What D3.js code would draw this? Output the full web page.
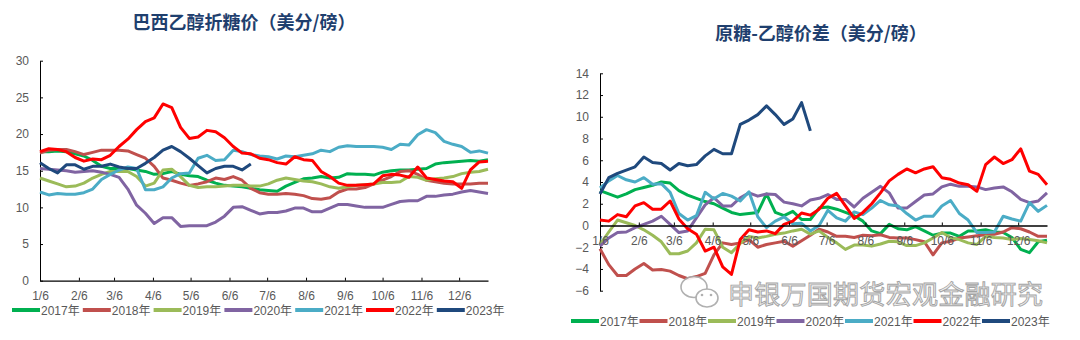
<!DOCTYPE html>
<html lang="zh">
<head>
<meta charset="UTF-8">
<title>巴西乙醇折糖价 / 原糖-乙醇价差</title>
<script src="https://cdnjs.cloudflare.com/ajax/libs/d3/7.8.5/d3.min.js"></script>
<style>
    body { margin: 0; background: #fff; }
    svg text { font-family: "Liberation Sans", "Noto Sans CJK SC", sans-serif; }
    .title { font-family: "Noto Sans CJK SC", sans-serif; font-weight: bold; fill: #1F3F6E; font-size: 18px; }
    .axis text { fill: #595959; font-size: 12px; }
    .axis path, .axis line { stroke: #000; }
    .legend text { fill: #595959; font-size: 12px; }
</style>
</head>
<body>
<svg id="viz" width="1080" height="340"></svg>
<script>
// weekly observation dates (common calendar for every year)
const weeks = ["1/6","1/13","1/20","1/27","2/3","2/10","2/17","2/24","3/3","3/10","3/17","3/24","3/31",
    "4/7","4/14","4/21","4/28","5/5","5/12","5/19","5/26","6/2","6/9","6/16","6/23","6/30",
    "7/7","7/14","7/21","7/28","8/4","8/11","8/18","8/25","9/1","9/8","9/15","9/22","9/29",
    "10/6","10/13","10/20","10/27","11/3","11/10","11/17","11/24","12/1","12/8","12/15","12/22","12/29"];
const monthTicks = ["1/6","2/6","3/6","4/6","5/6","6/6","7/6","8/6","9/6","10/6","11/6","12/6"];
const years = ["2017年","2018年","2019年","2020年","2021年","2022年","2023年"];
const colors = ["#00B050","#C0504D","#9BBB59","#8064A2","#4BACC6","#FF0000","#1F497D"];

// 巴西乙醇折糖价（美分/磅）
const eth2017 = [17.6,17.6,17.7,17.6,17.3,17.0,16.4,15.6,15.3,15.3,15.3,15.1,14.9,14.5,14.6,14.9,14.5,14.3,14.2,13.7,13.3,13.0,12.9,12.8,12.6,12.4,12.3,12.2,12.9,13.4,13.9,14.0,14.2,14.0,14.1,14.6,14.5,14.5,14.4,14.8,15.0,15.1,15.1,15.2,15.3,15.9,16.1,16.2,16.3,16.4,16.3,16.5];
const eth2018 = [17.4,17.8,17.9,17.9,17.6,17.2,17.5,17.8,17.8,17.8,17.7,17.2,16.7,15.6,14.0,13.7,13.3,13.0,13.2,13.5,14.0,13.8,14.2,13.7,12.6,12.0,11.8,11.8,11.9,11.8,11.6,11.2,11.1,11.3,12.1,12.5,12.5,12.7,13.2,13.7,14.2,14.9,15.0,14.5,13.7,13.5,13.3,13.2,13.2,13.2,13.3,13.3];
const eth2019 = [14.0,13.6,13.2,12.8,12.9,13.3,14.0,14.5,14.9,14.9,14.9,14.2,12.9,13.3,15.1,15.2,14.2,13.0,12.7,12.8,12.8,12.9,13.0,13.0,12.9,12.9,13.2,13.7,14.0,13.8,13.6,13.5,13.2,12.8,12.6,12.8,13.0,13.1,13.2,13.4,13.4,13.5,14.2,14.1,13.7,13.9,14.0,14.2,14.6,14.8,14.9,15.2];
const eth2020 = [15.3,15.2,15.1,15.0,14.8,14.9,15.0,14.8,14.5,14.1,12.5,10.3,9.2,7.8,8.6,8.6,7.4,7.5,7.5,7.5,8.0,8.8,10.0,10.1,9.6,9.1,9.3,9.3,9.5,9.9,9.9,9.4,9.4,9.9,10.4,10.4,10.2,10.0,10.0,10.0,10.4,10.8,10.9,10.9,11.5,11.5,11.7,11.8,12.1,12.3,12.1,11.9];
const eth2021 = [12.1,11.7,11.9,11.8,11.8,12.0,12.5,13.8,14.5,15.1,15.5,15.3,12.4,12.4,12.8,14.0,14.6,14.7,16.7,17.1,16.4,16.5,17.8,17.6,17.2,17.0,16.9,16.6,17.0,16.9,17.1,17.3,17.8,17.6,18.2,18.4,18.3,18.3,18.3,18.2,17.9,18.6,18.5,19.9,20.6,20.2,19.0,18.6,18.3,17.5,17.7,17.4];
const eth2022 = [17.6,18.0,17.9,17.6,16.8,16.3,16.6,16.5,17.1,18.3,19.3,20.6,21.7,22.2,24.1,23.6,20.9,19.4,19.6,20.5,20.3,19.5,18.3,17.4,17.3,16.7,16.5,16.1,15.9,16.9,16.5,16.4,14.9,14.2,13.3,13.0,13.0,13.1,13.2,14.3,14.5,14.4,14.1,15.5,14.0,13.8,13.6,13.5,12.6,15.1,16.2,16.3];
const eth2023 = [16.1,15.3,14.7,15.8,15.8,15.2,15.6,15.6,15.9,15.5,15.3,15.3,16.0,16.8,17.8,18.3,17.6,16.7,15.7,14.7,15.3,15.6,15.6,15.1,15.9];

// 原糖-乙醇价差（美分/磅）
const gap2017 = [3.2,2.9,2.6,2.9,3.3,3.5,3.7,4.0,3.9,3.2,2.8,2.5,2.2,2.0,1.6,1.2,1.0,1.1,1.2,2.9,1.2,0.9,1.3,0.55,0.55,1.6,1.7,1.5,1.2,0.9,0.4,-0.5,-0.75,0.1,-0.3,-0.4,-0.1,-0.5,-0.9,-0.7,-0.7,-1.0,-0.5,-0.5,-0.4,-0.6,-0.65,-1.1,-2.2,-2.5,-1.5,-1.35];
const gap2018 = [-2.15,-3.6,-4.6,-4.6,-4.0,-3.5,-4.1,-4.05,-4.2,-4.6,-4.9,-4.7,-4.4,-2.7,-1.6,-1.75,-1.6,-1.3,-2.0,-1.75,-1.6,-1.45,-1.9,-1.4,-0.9,-0.35,-0.6,-1.0,-1.0,-1.1,-0.9,-0.95,-0.85,-1.1,-1.15,-1.15,-1.3,-1.5,-2.7,-1.6,-1.45,-1.15,-1.05,-0.95,-0.85,-0.8,-0.6,-0.2,-0.3,-0.6,-1.0,-1.0];
const gap2019 = [-1.75,-0.6,0.5,0.25,0.0,-0.4,-0.9,-1.5,-2.6,-2.6,-2.35,-1.6,-0.35,-0.4,-2.0,-2.5,-1.65,-1.0,-1.15,-1.0,-0.8,-0.7,-0.5,-0.35,-0.8,-0.5,-1.1,-1.6,-2.2,-1.8,-1.8,-1.9,-1.7,-1.45,-1.5,-1.85,-1.85,-1.6,-1.15,-0.65,-1.1,-1.3,-1.6,-1.75,-1.0,-1.1,-1.15,-1.3,-1.2,-1.3,-1.4,-1.6];
const gap2020 = [-1.9,-1.15,-0.65,-0.6,-0.2,0.1,0.4,0.85,0.1,-0.65,-0.5,0.7,1.9,2.55,1.8,1.8,2.55,3.0,2.7,2.9,2.85,2.15,2.0,1.8,2.35,2.5,2.85,2.4,2.4,1.7,2.5,3.05,3.6,3.0,1.6,1.6,2.2,2.8,2.9,3.55,3.8,3.6,3.6,3.55,3.3,3.45,3.55,3.1,2.4,2.1,2.25,3.0];
const gap2021 = [3.45,4.1,4.6,4.2,4.0,4.4,3.8,3.85,3.05,1.1,0.5,0.9,3.05,2.45,2.95,2.7,2.25,3.1,0.8,-0.2,0.4,0.8,0.15,0.2,-0.5,0.0,1.4,0.7,0.4,1.25,1.0,1.6,2.3,1.9,1.8,1.1,0.5,0.85,0.85,1.8,2.3,1.1,0.5,-0.65,-0.65,-0.6,0.85,0.6,0.4,2.1,1.3,1.85];
const gap2022 = [0.5,0.4,1.0,0.8,1.8,2.1,1.5,1.5,2.25,0.6,-0.3,-0.8,-2.35,-2.0,-3.8,-4.5,-1.3,-0.4,-0.6,-0.5,-0.75,0.1,0.4,1.15,0.95,1.5,2.5,2.95,1.8,0.65,1.2,2.0,3.0,4.1,4.7,5.2,4.85,5.2,5.4,4.4,4.25,3.9,3.75,3.15,5.6,6.3,5.7,6.05,7.05,5.0,4.7,3.75];
const gap2023 = [2.9,4.4,4.8,5.1,5.4,6.3,5.8,5.7,5.1,5.7,5.5,5.6,6.4,7.0,6.6,6.6,9.3,9.7,10.2,11.0,10.2,9.3,9.8,11.3,8.7];

const leftSeries = [eth2017, eth2018, eth2019, eth2020, eth2021, eth2022, eth2023];
const rightSeries = [gap2017, gap2018, gap2019, gap2020, gap2021, gap2022, gap2023];

const toDate = s => { const [m, d] = s.split("/").map(Number); return new Date(2023, m - 1, d); };
const svg = d3.select("#viz");

function drawChart(cfg) {
    const x = d3.scaleTime().domain([toDate("1/6"), toDate("12/29")]).range([cfg.x0, cfg.x1]);
    const y = d3.scaleLinear().domain(cfg.yDomain).range([cfg.yBottom, cfg.yTop]);
    const g = svg.append("g");

    // y axis
    g.append("g").attr("class", "axis")
        .attr("transform", `translate(${cfg.x0},0)`)
        .call(d3.axisLeft(y).tickValues(cfg.yTicks).tickSizeInner(-3).tickSizeOuter(0).tickPadding(11));

    const line = d3.line()
        .x((d, i) => x(toDate(weeks[i])))
        .y(d => y(d));

    // x axis (at zero line)
    const xAxis = g.append("g").attr("class", "axis")
        .attr("transform", `translate(0,${y(0)})`)
        .call(d3.axisBottom(x).tickValues(monthTicks.map(toDate))
            .tickFormat((d, i) => monthTicks[i]).tickSizeInner(-3).tickSizeOuter(0).tickPadding(11));

    g.append("g").selectAll("path")
        .data(cfg.series)
        .join("path")
        .attr("fill", "none")
        .attr("stroke", (d, i) => colors[i])
        .attr("stroke-width", 3)
        .attr("stroke-linejoin", "round")
        .attr("d", line);

    xAxis.raise();
    xAxis.select(".domain").attr("stroke-width", 1.3);

    // title
    g.append("text").attr("class", "title")
        .attr("x", cfg.titleX).attr("y", cfg.titleY)
        .attr("text-anchor", "middle")
        .text(cfg.title);

    // legend
    const leg = g.append("g").attr("class", "legend");
    years.forEach((yr, i) => {
        const lx = cfg.legX + i * cfg.legStep;
        leg.append("line")
            .attr("x1", lx).attr("x2", lx + 28)
            .attr("y1", cfg.legY).attr("y2", cfg.legY)
            .attr("stroke", colors[i]).attr("stroke-width", 4);
        leg.append("text")
            .attr("x", lx + 29).attr("y", cfg.legY + 4.5)
            .text(yr);
    });
}

drawChart({
    x0: 40, x1: 488, yTop: 60.7, yBottom: 280.7,
    yDomain: [0, 30], yTicks: [0, 5, 10, 15, 20, 25, 30],
    series: leftSeries,
    title: "巴西乙醇折糖价（美分/磅）", titleX: 244, titleY: 29,
    legX: 12, legStep: 70.8, legY: 310
});

drawChart({
    x0: 600, x1: 1047, yTop: 73.3, yBottom: 290.7,
    yDomain: [-6, 14], yTicks: [-6, -4, -2, 0, 2, 4, 6, 8, 10, 12, 14],
    series: rightSeries,
    title: "原糖-乙醇价差（美分/磅）", titleX: 821, titleY: 40,
    legX: 571, legStep: 68.5, legY: 321
});

// watermark
const wm = svg.append("g").attr("opacity", 0.9);
wm.append("ellipse").attr("cx", 694).attr("cy", 287).attr("rx", 13).attr("ry", 10.5)
    .attr("fill", "#fff").attr("stroke", "#a8a8a8").attr("stroke-width", 1.6);
wm.append("ellipse").attr("cx", 707).attr("cy", 298).attr("rx", 11).attr("ry", 9)
    .attr("fill", "#fff").attr("stroke", "#a8a8a8").attr("stroke-width", 1.6);
[[702, 295], [711, 295]].forEach(p => wm.append("circle").attr("cx", p[0]).attr("cy", p[1]).attr("r", 1.3).attr("fill", "#a8a8a8"));
wm.append("text")
    .attr("x", 728).attr("y", 304)
    .attr("font-family", "Noto Sans CJK SC")
    .attr("font-size", 26)
    .attr("fill", "#ececec").attr("stroke", "#9a9a9a").attr("stroke-width", 0.9)
    .attr("textLength", 315)
    .text("申银万国期货宏观金融研究");
</script>
</body>
</html>
